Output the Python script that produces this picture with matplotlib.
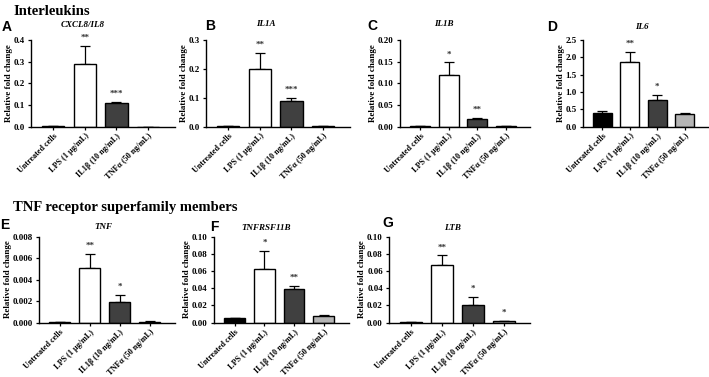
import matplotlib
matplotlib.use("Agg")
import matplotlib.pyplot as plt
from matplotlib.ticker import MultipleLocator, FormatStrFormatter
import numpy as np

# treatments (x axis)
treatments = ["Untreated cells", "LPS (1 \u03bcg/mL)", "IL1\u03b2 (10 ng/mL)", "TNF\u03b1 (50 ng/mL)"]
bar_colors = ["black", "white", "#404040", "#b5b5b5"]

# values (mean, upper error, significance)
cxcl8_mean = [0.002, 0.290, 0.107, 0.0]
cxcl8_err = [0.0, 0.083, 0.006, 0.0]
cxcl8_sig = ["", "**", "***", ""]

il1a_mean = [0.002, 0.198, 0.087, 0.002]
il1a_err = [0.0, 0.057, 0.011, 0.0]
il1a_sig = ["", "**", "***", ""]

il1b_mean = [0.0005, 0.118, 0.017, 0.001]
il1b_err = [0.0, 0.030, 0.003, 0.0]
il1b_sig = ["", "*", "**", ""]

il6_mean = [0.38, 1.85, 0.77, 0.35]
il6_err = [0.08, 0.31, 0.13, 0.03]
il6_sig = ["", "**", "*", ""]

tnf_mean = [0.00005, 0.0051, 0.0019, 0.0001]
tnf_err = [0.0, 0.0013, 0.0007, 0.00003]
tnf_sig = ["", "**", "*", ""]

tnfrsf11b_mean = [0.006, 0.062, 0.039, 0.008]
tnfrsf11b_err = [0.0, 0.021, 0.004, 0.0015]
tnfrsf11b_sig = ["", "*", "**", ""]

ltb_mean = [0.001, 0.067, 0.021, 0.002]
ltb_err = [0.0, 0.011, 0.009, 0.0005]
ltb_sig = ["", "**", "*", "*"]

W, H = 709, 377
fig = plt.figure(figsize=(W / 100, H / 100), dpi=100)

serif = "Liberation Serif"
sans = "Liberation Sans"

def fx(x):
    return x / W

def fy(y):
    return 1 - y / H

# panel: (letter, gene, mean, err, sig, ymax, ystep, fmt, left, right, top, bottom, letter_x, letter_y, title_x, title_y)
panels = [
    ("A", "CXCL8/IL8", cxcl8_mean, cxcl8_err, cxcl8_sig, 0.4, 0.1, "%.1f", 31, 175, 40, 126.5, 2, 31, 83, 25),
    ("B", "IL1A", il1a_mean, il1a_err, il1a_sig, 0.3, 0.1, "%.1f", 206, 350, 40, 126.5, 205, 30, 266, 24),
    ("C", "IL1B", il1b_mean, il1b_err, il1b_sig, 0.2, 0.05, "%.2f", 400, 530, 40, 126.5, 367, 30, 444, 24),
    ("D", "IL6", il6_mean, il6_err, il6_sig, 2.5, 0.5, "%.1f", 583, 708, 40, 126.5, 547, 31, 642, 27),
    ("E", "TNF", tnf_mean, tnf_err, tnf_sig, 0.008, 0.002, "%.3f", 39, 175, 236.5, 322.7, 0, 229, 103, 227),
    ("F", "TNFRSF11B", tnfrsf11b_mean, tnfrsf11b_err, tnfrsf11b_sig, 0.10, 0.02, "%.2f", 214, 349, 236.5, 322.7, 210, 231, 266, 228),
    ("G", "LTB", ltb_mean, ltb_err, ltb_sig, 0.10, 0.02, "%.2f", 389, 530, 236.5, 322.7, 382, 227, 453, 228),
]

x = np.arange(len(treatments))

for (letter, gene, mean, err, sig, ymax, ystep, fmt, l, r, t, b, lx, ly, tx, ty) in panels:
    ax = fig.add_axes([fx(l), fy(b), fx(r - l), (b - t) / H])
    ax.bar(x, mean, width=0.7, color=bar_colors, edgecolor="black", linewidth=1.0, zorder=2)
    ax.errorbar(x, mean, yerr=[np.zeros(len(mean)), err], fmt="none", ecolor="black",
                elinewidth=0.9, capsize=3.5, capthick=0.9, zorder=1)
    for i in range(len(x)):
        if sig[i]:
            ax.annotate(sig[i], (x[i], mean[i] + err[i]), xytext=(0, 3), textcoords="offset points",
                        ha="center", va="bottom", fontsize=6.5, fontfamily=serif, fontweight="bold",
                        color="#333333")
    ax.set_xlim(-0.7, 3.85)
    ax.set_ylim(0, ymax)
    ax.yaxis.set_major_locator(MultipleLocator(ystep))
    ax.yaxis.set_major_formatter(FormatStrFormatter(fmt))
    ax.set_xticks(x)
    ax.set_xticklabels(treatments, rotation=45, ha="right", rotation_mode="anchor",
                       fontsize=5.9, fontfamily=serif, fontweight="bold")
    for lab in ax.get_yticklabels():
        lab.set_fontfamily(serif)
        lab.set_fontweight("bold")
        lab.set_fontsize(6.5)
    ax.tick_params(axis="both", length=2.5, width=0.9, pad=2)
    ax.tick_params(axis="x", pad=1.5)
    ax.spines["top"].set_visible(False)
    ax.spines["right"].set_visible(False)
    ax.spines["left"].set_linewidth(1.0)
    ax.spines["bottom"].set_linewidth(1.0)
    ax.set_ylabel("Relative fold change", fontsize=6.5, fontfamily=serif, fontweight="bold", labelpad=0.5)
    fig.text(fx(lx), fy(ly), letter, fontsize=10, fontfamily=sans, fontweight="bold", va="baseline")
    fig.text(fx(tx), fy(ty), gene, fontsize=6.5, fontfamily=serif, fontweight="bold",
             fontstyle="italic", ha="center", va="center")

fig.text(fx(13), fy(15), "Interleukins", fontsize=10.5, fontfamily=serif, fontweight="bold", va="baseline")
fig.text(fx(13), fy(211), "TNF receptor superfamily members", fontsize=10.5, fontfamily=serif,
         fontweight="bold", va="baseline")

fig.savefig("out.png", dpi=100)
